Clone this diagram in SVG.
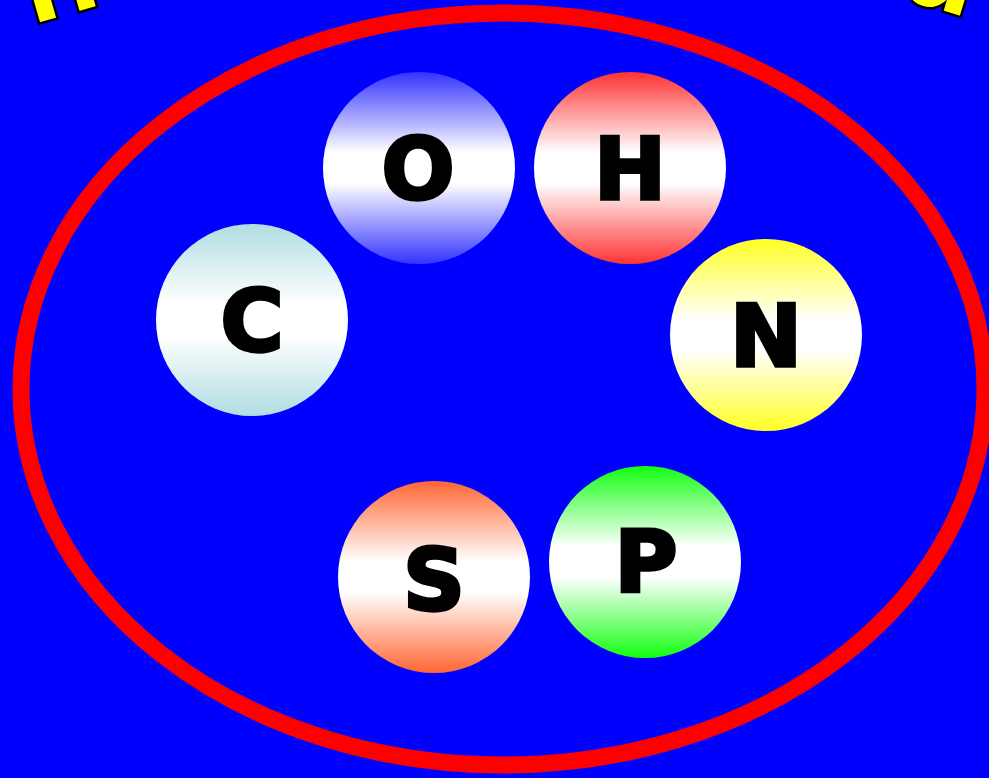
<svg xmlns="http://www.w3.org/2000/svg" width="989" height="778" viewBox="0 0 989 778">
  <defs>
    <linearGradient id="gO" x1="0" y1="0" x2="0" y2="1">
      <stop offset="0" stop-color="#3333ff"/>
      <stop offset="0.42" stop-color="#ffffff"/>
      <stop offset="0.58" stop-color="#ffffff"/>
      <stop offset="1" stop-color="#3333ff"/>
    </linearGradient>
    <linearGradient id="gH" x1="0" y1="0" x2="0" y2="1">
      <stop offset="0" stop-color="#ff3333"/>
      <stop offset="0.42" stop-color="#ffffff"/>
      <stop offset="0.58" stop-color="#ffffff"/>
      <stop offset="1" stop-color="#ff3333"/>
    </linearGradient>
    <linearGradient id="gN" x1="0" y1="0" x2="0" y2="1">
      <stop offset="0" stop-color="#ffff22"/>
      <stop offset="0.42" stop-color="#ffffff"/>
      <stop offset="0.58" stop-color="#ffffff"/>
      <stop offset="1" stop-color="#ffff22"/>
    </linearGradient>
    <linearGradient id="gC" x1="0" y1="0" x2="0" y2="1">
      <stop offset="0" stop-color="#b0dde2"/>
      <stop offset="0.42" stop-color="#ffffff"/>
      <stop offset="0.58" stop-color="#ffffff"/>
      <stop offset="1" stop-color="#b0dde2"/>
    </linearGradient>
    <linearGradient id="gS" x1="0" y1="0" x2="0" y2="1">
      <stop offset="0" stop-color="#ff6633"/>
      <stop offset="0.42" stop-color="#ffffff"/>
      <stop offset="0.58" stop-color="#ffffff"/>
      <stop offset="1" stop-color="#ff6633"/>
    </linearGradient>
    <linearGradient id="gP" x1="0" y1="0" x2="0" y2="1">
      <stop offset="0" stop-color="#11ff11"/>
      <stop offset="0.42" stop-color="#ffffff"/>
      <stop offset="0.58" stop-color="#ffffff"/>
      <stop offset="1" stop-color="#11ff11"/>
    </linearGradient>
  </defs>
  <style>
    .lbl { font-family: "DejaVu Sans", "Liberation Sans", sans-serif; font-weight: bold; font-size: 86px; fill: #000; stroke: #000; stroke-width: 3.5; stroke-linejoin: miter; text-anchor: middle; }
    .title { font-family: "DejaVu Sans", "Liberation Sans", sans-serif; font-weight: bold; font-size: 110px; fill: #ffff00; stroke: #000; stroke-width: 2.5; }
  </style>
  <rect x="0" y="0" width="989" height="778" fill="#0000ff"/>
  <g id="title">
    <text class="title" transform="translate(38,24) rotate(-16)" x="-8" y="0">n</text>
    <text class="title" transform="translate(898,-2) rotate(17)" x="0" y="0">a</text>
  </g>
  <g id="border">
    <ellipse cx="503" cy="389" rx="482" ry="376" fill="none" stroke="#ff0000" stroke-width="17"/>
  </g>
  <g id="node-O">
    <circle cx="419" cy="168" r="96" fill="url(#gO)"/>
    <text class="lbl" x="418" y="199">O</text>
  </g>
  <g id="node-H">
    <circle cx="630" cy="168" r="96" fill="url(#gH)"/>
    <text class="lbl" x="630" y="199">H</text>
  </g>
  <g id="node-C">
    <circle cx="252" cy="320" r="96" fill="url(#gC)"/>
    <text class="lbl" x="252" y="351">C</text>
  </g>
  <g id="node-N">
    <circle cx="766" cy="335" r="96" fill="url(#gN)"/>
    <text class="lbl" x="766" y="366">N</text>
  </g>
  <g id="node-S">
    <circle cx="434" cy="577" r="96" fill="url(#gS)"/>
    <text class="lbl" x="434" y="610">S</text>
  </g>
  <g id="node-P">
    <circle cx="645" cy="562" r="96" fill="url(#gP)"/>
    <text class="lbl" x="646" y="592">P</text>
  </g>
  <g id="connectors"/>
</svg>
